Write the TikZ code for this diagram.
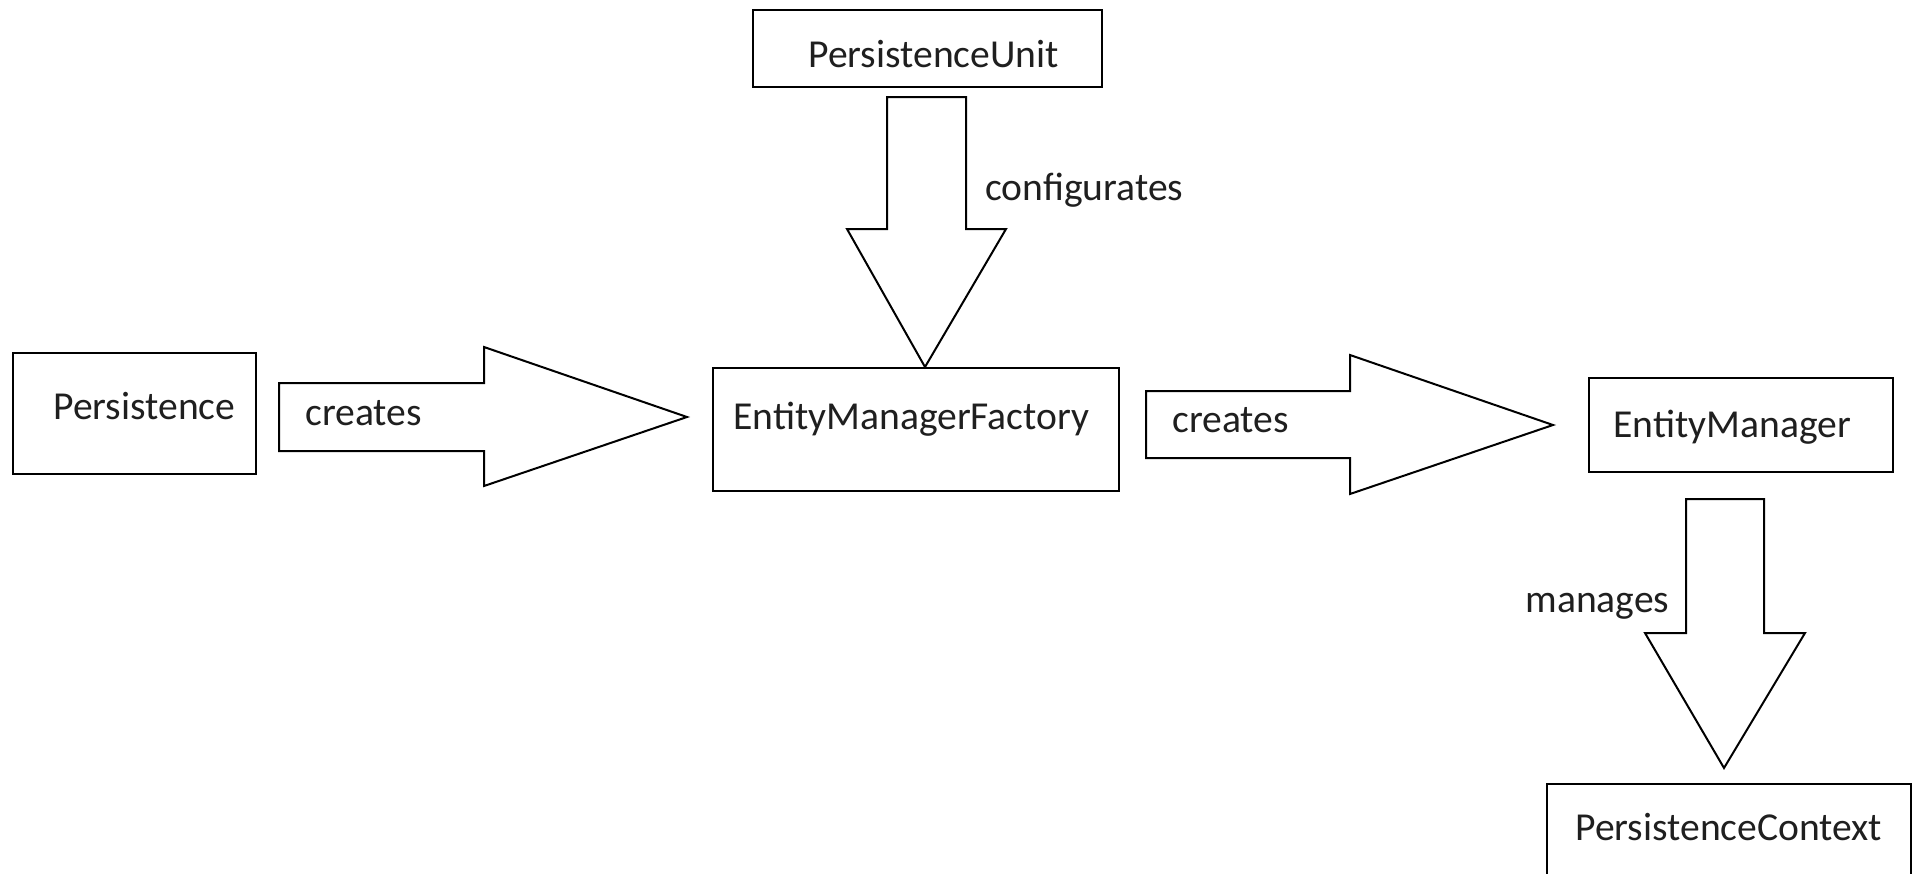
\documentclass[tikz,border=0pt]{standalone}
\usepackage{fontspec}
\setmainfont{Carlito}
\usetikzlibrary{fit}
\begin{document}
\begin{tikzpicture}[x=0.5pt,y=-0.5pt,
  box/.style={draw, line width=1pt, inner sep=0pt},
  lbl/.style={anchor=base west, inner sep=0pt, font=\fontsize{19.8}{24}\selectfont, text=black!88},
  blockarrow/.style={draw, line width=1pt, fill=white, line join=miter}]
\clip (0,0) rectangle (1916,873);
\fill[white] (0,0) rectangle (1916,873);

% boxes
\node[box, fit={(13,353) (256,474)}] (pers) {};
\node[box, fit={(753,10) (1102,87)}] (pu) {};
\node[box, fit={(713,368) (1119,491)}] (emf) {};
\node[box, fit={(1589,378) (1893,472)}] (em) {};
\node[box, fit={(1547,784) (1911,900)}] (pc) {};

% box texts
\node[lbl] (perst) at (53,419) {Persistence};
\node[lbl] (put) at (808,67) {PersistenceUnit};
\node[lbl] (emft) at (733,429) {EntityManagerFactory};
\node[lbl] (emt) at (1613,437) {EntityManager};
\node[lbl] (pct) at (1575,840) {PersistenceContext};

% block arrows
\draw[blockarrow] (279,383) -- (484,383) -- (484,347) -- (687,417) -- (484,486) -- (484,451) -- (279,451) -- cycle;
\draw[blockarrow] (1146,391) -- (1350,391) -- (1350,355) -- (1553,425) -- (1350,494) -- (1350,458) -- (1146,458) -- cycle;
\draw[blockarrow] (887,97) -- (966,97) -- (966,229) -- (1006,229) -- (925,367) -- (847,229) -- (887,229) -- cycle;
\draw[blockarrow] (1686,499) -- (1764,499) -- (1764,633) -- (1805,633) -- (1724,768) -- (1645,633) -- (1686,633) -- cycle;

% arrow labels
\node[lbl] (c1) at (305,425) {creates};
\node[lbl] (c2) at (1172,432) {creates};
\node[lbl] (cf) at (985,200) {configurates};
\node[lbl] (mg) at (1525,612) {manages};
\end{tikzpicture}
\end{document}
